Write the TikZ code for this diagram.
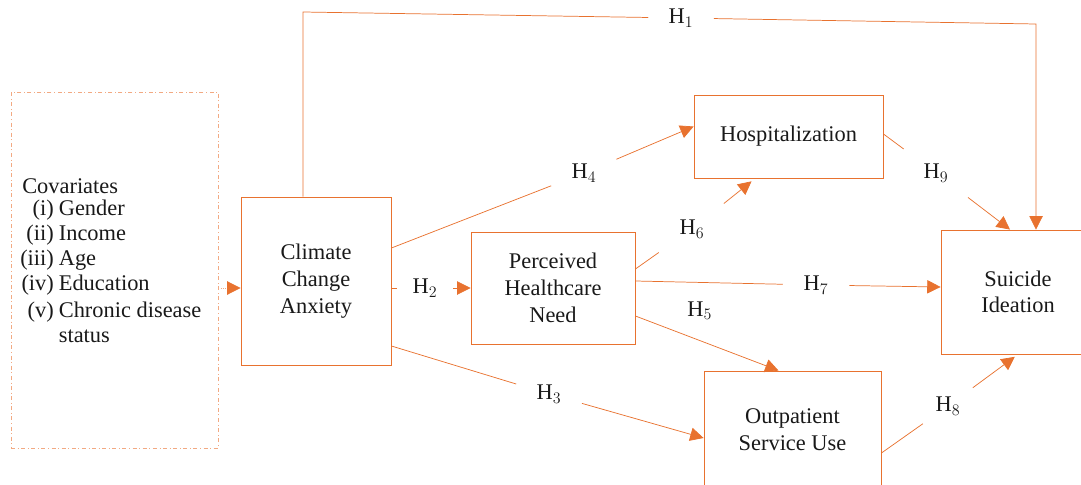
\documentclass[tikz,border=0pt]{standalone}
\usepackage{fontspec}
\setmainfont{Liberation Serif}
\usepackage{tikz}
\usetikzlibrary{arrows.meta}
\definecolor{accent}{HTML}{E8722F}
\definecolor{accentlight}{HTML}{F2A982}
\tikzset{
>={Triangle[length=10pt, width=10pt, color=accent]}, % filled orange heads
every node/.style={font=\fontsize{16.8}{20}\selectfont, text=black!90}, % text size of all nodes
box/.style={draw=accent, line width=0.65pt, align=center, inner sep=0pt}, % the variable boxes
covbox/.style={draw=accentlight, line width=0.6pt, dash dot}, % the covariates frame
link/.style={draw=accent, line width=0.55pt}, % the paths between boxes
covlink/.style={draw=accentlight, line width=0.6pt, densely dotted}, % covariates to anxiety
hlab/.style={circle, inner sep=0pt, minimum size=#1}, % hypothesis labels, size sets the gap
hlab/.default=48pt,
}

\begin{document}
\begin{tikzpicture}[x=0.75pt, y=-0.75pt]
            \clip (0,0) rectangle (1081,485);
            % boxes
            \node[box, covbox, minimum width=155.25pt, minimum height=267pt] (cov) at (114.5,270) {};
            \node[anchor=north west, inner sep=0pt, font=\fontsize{16.8}{18.6}\selectfont] (covlist) at (20,175.5)
                {\begin{tabular}{@{}r@{\hspace{3.75pt}}l@{}}
                 \multicolumn{2}{@{}l@{}}{\hspace{1.5pt}Covariates}\\[-1.5pt]
                 (i) & Gender\\
                 (ii) & Income\\
                 (iii) & Age\\
                 (iv) & Education\\[2pt]
                 (v) & Chronic disease\\
                     & status
                 \end{tabular}};
            \node[box, minimum width=112.5pt, minimum height=126pt] (cca) at (316,281) {Climate\\Change\\Anxiety};
            \node[box, minimum width=123pt, minimum height=84pt] (phn) at (553,288) {Perceived\\Healthcare\\Need};
            \node[box, minimum width=141.75pt, minimum height=62.25pt] (hosp) at (788.5,136.5) {Hospitalization};
            \node[box, minimum width=132.75pt, minimum height=88.5pt] (outp) at (792.5,430) {Outpatient\\Service Use};
            \node[box, minimum width=115.5pt, minimum height=93pt] (si) at (1018,292) {Suicide\\Ideation};
            % hypothesis labels
            \node[hlab=48.75pt] (h1) at (681,18) {H$_1$};
            \node[hlab=42pt] (h2) at (425,288) {H$_2$};
            \node[hlab=51pt] (h3) at (549,394) {H$_3$};
            \node[hlab=52.5pt] (h4) at (584,173) {H$_4$};
            \node[hlab=60.75pt] (h6) at (692,229) {H$_6$};
            \node[hlab=49.5pt] (h7) at (816,285) {H$_7$};
            \node[hlab=45.75pt] (h8) at (948,406) {H$_8$};
            \node[hlab=60pt] (h9) at (936,173) {H$_9$};
            \coordinate (h1top) at (303,12);
            \coordinate (h1turn) at (1036,24);
            % paths
            \draw[covlink, ->] ([yshift=-13.5pt]cov.east) -- ([yshift=-5.25pt]cca.west);
            \draw[link] ([xshift=-9.75pt]cca.north) -- (h1top) -- (h1);
            \draw[link, ->] (h1) -- (h1turn) -- ([xshift=13.5pt]si.north);
            \draw[link] ([yshift=-5.25pt]cca.east) -- (h2);
            \draw[link, ->] (h2) -- (phn.west);
            \draw[link] ([yshift=-48.75pt]cca.east) -- (h3);
            \draw[link, ->] (h3) -- ([yshift=-6pt]outp.west);
            \draw[link] ([yshift=24.75pt]cca.east) -- (h4);
            \draw[link, ->] (h4) -- ([yshift=7.5pt]hosp.west);
            \draw[link, ->] ([yshift=-21pt]phn.east) -- node[pos=0.45, above=12pt] (h5) {H$_5$} ([xshift=-10.5pt]outp.north);
            \draw[link] ([yshift=14.25pt]phn.east) -- (h6);
            \draw[link, ->, shorten >=3.5pt] (h6) -- ([xshift=-25pt]hosp.south);
            \draw[link] ([yshift=5.25pt]phn.east) -- (h7);
            \draw[link, ->] (h7) -- ([yshift=3.75pt]si.west);
            \draw[link] ([yshift=-17.25pt]outp.east) -- (h8);
            \draw[link, ->, shorten >=3pt] (h8) -- (si.south);
            \draw[link] ([yshift=1.9pt]hosp.east) -- (h9);
            \draw[link, ->] (h9) -- ([xshift=-6pt]si.north);
\end{tikzpicture}
\end{document}
